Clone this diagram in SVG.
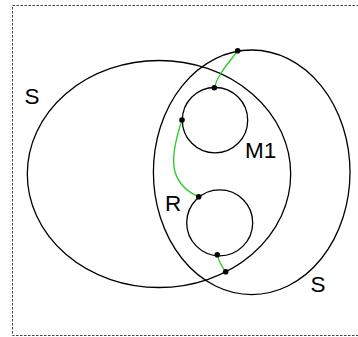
<svg xmlns="http://www.w3.org/2000/svg" width="358" height="337" viewBox="0 0 358 337">
<style>
.shape{fill:none;stroke:#000;stroke-width:1.3}
.conn{fill:none;stroke:#22cc22;stroke-width:1.3}
.dot{fill:#000}
.lbl{font-family:"Liberation Sans",Arial,sans-serif;font-size:22.5px;fill:#000}
</style>
<rect x="12.5" y="5.5" width="360" height="330" fill="none" stroke="#444" stroke-width="1" stroke-dasharray="2.5,1.5"/>
<g id="S1">
<ellipse class="shape" cx="159" cy="174" rx="131.7" ry="113.5"/>
<text class="lbl" x="24.5" y="104">S</text>
</g>
<g id="S2">
<ellipse class="shape" cx="251.7" cy="172.3" rx="98.3" ry="122.3"/>
<text class="lbl" x="310.5" y="292">S</text>
</g>
<g id="M1">
<circle class="shape" cx="215" cy="120.2" r="32.7"/>
<text class="lbl" x="245" y="157.5">M1</text>
</g>
<g id="R">
<circle class="shape" cx="219.7" cy="222.8" r="33"/>
<text class="lbl" x="165" y="211">R</text>
</g>
<g id="connectors">
<path class="conn" d="M237.7,50.7 C228,64 218,74 214.3,87.7"/>
<path class="conn" d="M182,120 C176,138 171,158 175,172 C179,185 190,193 198.7,196.7"/>
<path class="conn" d="M217.3,254.7 C219,262 222,267 225.7,271.7"/>
<circle class="dot" cx="237.7" cy="50.7" r="2.8"/>
<circle class="dot" cx="214.3" cy="87.7" r="2.8"/>
<circle class="dot" cx="182" cy="120" r="2.8"/>
<circle class="dot" cx="198.7" cy="196.7" r="2.8"/>
<circle class="dot" cx="217.3" cy="254.7" r="2.8"/>
<circle class="dot" cx="225.7" cy="271.7" r="2.8"/>
</g>
</svg>
